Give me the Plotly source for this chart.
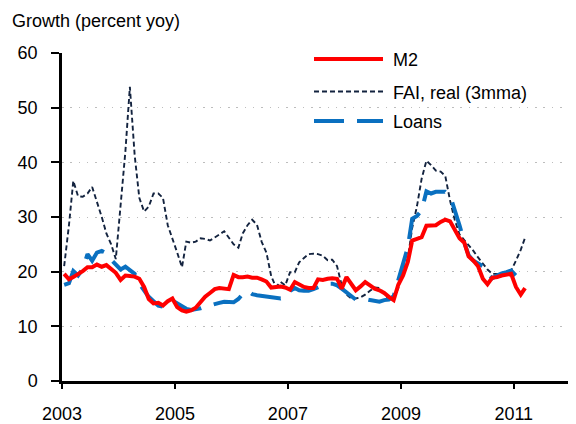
import plotly.graph_objects as go

# Monthly data, Jan 2003 onward (percent yoy)
m2 = [19.6, 18.6, 19.0, 19.5, 20.1, 20.8, 20.8, 21.3, 20.9, 21.2, 20.6, 19.8,
      18.5, 19.3, 19.2, 19.1, 18.7, 17.2, 15.0, 14.2, 14.3, 13.8, 14.6, 15.1,
      13.5, 12.9, 12.7, 12.9, 13.4, 14.5, 15.4, 16.1, 16.8, 17.0, 16.9, 16.8,
      19.4, 19.0, 19.0, 19.1, 18.9, 18.9, 18.6, 18.2, 17.1, 17.2, 17.3, 17.1,
      16.7, 18.1, 17.6, 17.2, 17.0, 17.0, 18.6, 18.5, 18.7, 18.8, 18.7, 16.9,
      19.0, 17.8, 16.6, 17.3, 18.1, 17.5, 16.9, 16.6, 16.1, 15.4, 14.8, 17.6,
      19.3, 21.8, 25.7, 26.0, 26.3, 28.4, 28.5, 28.5, 29.1, 29.5, 29.2, 27.5,
      26.1, 25.3, 22.8, 22.0, 21.0, 18.7, 17.7, 18.9, 19.0, 19.3, 19.5, 19.6,
      17.2, 15.8, 17.0]

fai = [21.0, 28.5, 36.6, 33.8, 33.7, 34.3, 35.5, 32.8, 30.0, 27.0, 25.0, 22.3,
       31.5, 42.0, 53.8, 41.3, 33.5, 31.0, 31.9, 34.3, 34.3, 33.5, 28.5, 26.2,
       23.5, 20.8, 25.5, 25.3, 25.5, 26.1, 26.0, 25.7, 26.2, 26.8, 27.4, 26.3,
       25.0, 24.4, 27.0, 28.5, 29.5, 28.6, 25.5, 23.5, 19.2, 17.2, 18.1, 17.5,
       19.9, 19.9, 21.7, 22.5, 23.2, 23.3, 23.2, 22.9, 22.1, 22.2, 21.0, 17.5,
       15.8, 15.1, 15.1, 15.3, 15.8, 16.5, 17.1, 17.0, 16.0, 15.0, 15.1, 17.0,
       20.0, 22.5, 28.0, 32.0, 37.0, 40.3, 39.5, 38.5, 38.3, 37.5, 33.0, 29.5,
       26.8, 25.8, 24.8, 23.8, 22.6, 21.5, 20.4, 19.6, 19.6, 19.6, 19.8, 20.2,
       22.0, 24.0, 26.2]

loans = [17.6, 17.9, 20.1, 19.3, 20.5, 23.2, 22.0, 23.5, 23.8, 23.4, 22.2, 21.3,
         20.4, 20.9, 20.2, 19.6, 17.8, 16.6, 15.4, 14.6, 13.8, 13.6, 14.3, 14.7,
         14.2, 13.6, 13.2, 13.0, 13.1, 13.3, 13.6, 13.9, 14.1, 14.3, 14.5, 14.5,
         14.4, 15.0, 15.9, 16.5, 15.9, 15.7, 15.6, 15.5, 15.3, 15.2, 15.1, 15.3,
         16.5, 17.0, 16.6, 16.5, 16.5, 16.8, 17.1, 17.4, 17.8, 17.8, 17.5, 16.9,
         16.2, 15.4, 14.9, 14.8, 15.0, 14.8, 14.6, 14.5, 14.8, 14.9, 15.5, 18.5,
         21.2, 24.5, 29.7, 30.2, 31.2, 34.7, 34.3, 34.6, 34.6, 34.6, 33.9, 31.5,
         28.5, 25.3, 23.0, 22.0, 21.6, 21.0, 19.6, 18.8, 19.3, 19.7, 19.9, 20.2,
         19.3]

series_names = ["M2", "FAI, real (3mma)", "Loans"]
year_ticks = [2003, 2005, 2007, 2009, 2011]


def month_dates(n):
    out = []
    for k in range(n):
        y = 2003 + k // 12
        mo = k % 12 + 1
        out.append(f"{y}-{mo:02d}-15")
    return out


RED = "#ff0000"
NAVY = "#13233f"
BLUE = "#0a70c0"
FONT = "Liberation Sans, Arial, sans-serif"
FAI_LINE = dict(color=NAVY, width=1.9, dash="5px,3px")
LOAN_LINE = dict(color=BLUE, width=4, dash="30px,13px")
M2_LINE = dict(color=RED, width=4)

fig = go.Figure()
fig.add_trace(go.Scatter(x=month_dates(len(fai)), y=fai, mode="lines",
                         name=series_names[1], line=FAI_LINE))
fig.add_trace(go.Scatter(x=month_dates(len(loans)), y=loans, mode="lines",
                         name=series_names[2], line=LOAN_LINE))
fig.add_trace(go.Scatter(x=month_dates(len(m2)), y=m2, mode="lines",
                         name=series_names[0], line=M2_LINE))

# The page body has an 8px margin, so the figure is drawn 8px smaller and
# all target positions (window pixels) are shifted by OFF.
OFF = 8
W, H = 576 - OFF, 424 - OFF
L, T = 62 - OFF, 53 - OFF
R = W - (575 - OFF)
B = H - (381 - OFF)
pw, ph = W - L - R, H - T - B


def px_x(p):
    return (p - OFF - L) / pw


def px_y(p):
    return (T + ph - (p - OFF)) / ph


legend_rows = [
    (series_names[0], 59, M2_LINE),
    (series_names[1], 91.5, FAI_LINE),
    (series_names[2], 121, LOAN_LINE),
]
shapes = []
annotations = []
for name, yy, ln in legend_rows:
    shapes.append(dict(type="line", xref="paper", yref="paper",
                       x0=px_x(314), x1=px_x(383), y0=px_y(yy), y1=px_y(yy),
                       line=ln))
    annotations.append(dict(text=name, xref="paper", yref="paper",
                            x=px_x(391), y=px_y(yy + 1), xanchor="left",
                            yanchor="middle", showarrow=False,
                            font=dict(size=18, color="black", family=FONT)))

annotations.append(dict(text="Growth (percent yoy)", xref="paper", yref="paper",
                        x=px_x(10), y=px_y(21), xanchor="left", yanchor="middle",
                        showarrow=False,
                        font=dict(size=18, color="black", family=FONT)))

fig.update_layout(
    width=W, height=H,
    margin=dict(l=L, r=R, t=T, b=B, autoexpand=False),
    paper_bgcolor="white", plot_bgcolor="white",
    showlegend=False,
    font=dict(family=FONT, size=18, color="black"),
    shapes=shapes,
    annotations=annotations,
)
fig.update_xaxes(
    type="date",
    range=["2003-01-01", "2012-02-01"],
    tickvals=[f"{y}-01-01" for y in year_ticks],
    ticktext=[str(y) for y in year_ticks],
    showline=True, linecolor="black", linewidth=2.5,
    ticks="outside", ticklen=5, tickwidth=2, tickcolor="black",
    ticklabelstandoff=10, automargin=False,
    showgrid=False, zeroline=False,
    tickfont=dict(size=18, family=FONT),
)
fig.update_yaxes(
    range=[0, 60], dtick=10, tick0=0,
    showline=True, linecolor="black", linewidth=2.5,
    ticks="outside", ticklen=8, tickwidth=2, tickcolor="black",
    ticklabelstandoff=10, automargin=False,
    showgrid=True, gridcolor="#bdbdbd", gridwidth=1.4, griddash="1.5px,6.8px",
    zeroline=False,
    tickfont=dict(size=18, family=FONT),
)

fig.write_html("out.html")
